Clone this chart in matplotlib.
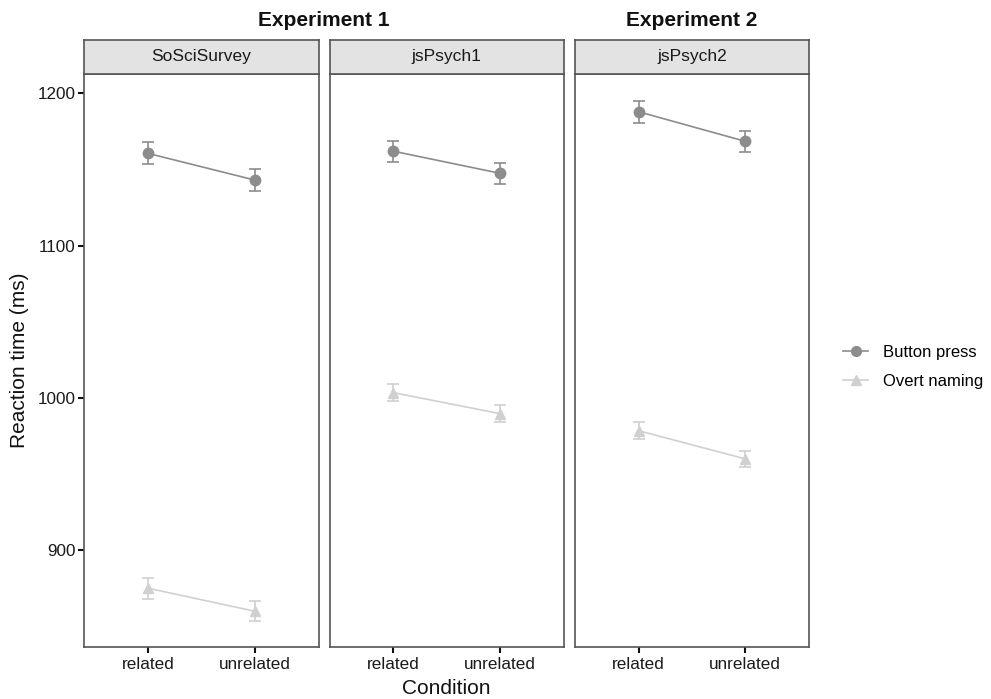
import matplotlib
matplotlib.use("Agg")
import matplotlib.pyplot as plt
from matplotlib.lines import Line2D

plt.rcParams['font.family'] = ['Liberation Sans', 'DejaVu Sans']

conditions = ["related", "unrelated"]
panels = ["SoSciSurvey", "jsPsych1", "jsPsych2"]
series = ["Button press", "Overt naming"]

button_mean = [[1160.6, 1143.1], [1162.0, 1147.5], [1187.9, 1168.5]]
button_err = [[7.2, 7.1], [7.0, 6.9], [7.2, 7.0]]
overt_mean = [[875.1, 860.0], [1003.5, 989.7], [978.5, 960.0]]
overt_err = [[6.8, 6.4], [5.5, 5.5], [5.4, 5.2]]

yticks = [900, 1000, 1100, 1200]
colors = ["#8c8c8c", "#d0d0d0"]
markers = ["o", "^"]

W, H = 991, 699
fig = plt.figure(figsize=(W / 100, H / 100), dpi=100)

lefts = [84, 329.5, 574.7]
pw = 234.5
top, bottom = 74, 647
strip_h = 34
border = "#555555"

for i, name in enumerate(panels):
    ax = fig.add_axes([lefts[i] / W, 1 - bottom / H, pw / W, (bottom - top) / H])
    x = [1, 2]
    for mean, err, c, m in [(button_mean[i], button_err[i], colors[0], markers[0]),
                            (overt_mean[i], overt_err[i], colors[1], markers[1])]:
        ax.errorbar(x, mean, yerr=err, color=c, marker=m, markersize=7.5,
                    linewidth=1.2, elinewidth=1.2, capsize=4.5, capthick=1.2)
    ax.set_xlim(0.4, 2.6)
    ax.set_ylim(836.5, 1212.7)
    ax.set_xticks(x)
    ax.set_xticklabels(conditions, fontsize=12.3, color="#1a1a1a")
    ax.set_yticks(yticks)
    if i == 0:
        ax.set_yticklabels([str(v) for v in yticks], fontsize=12.3, color="#1a1a1a")
        ax.tick_params(axis="y", length=4, width=1.5, color="#111111", pad=2)
    else:
        ax.tick_params(axis="y", left=False, labelleft=False)
    ax.tick_params(axis="x", length=4, width=1.5, color="#111111", pad=3)
    for s in ax.spines.values():
        s.set_color(border)
        s.set_linewidth(1.2)
    # strip
    sax = fig.add_axes([lefts[i] / W, 1 - top / H, pw / W, strip_h / H])
    sax.set_facecolor("#e3e3e3")
    sax.set_xticks([])
    sax.set_yticks([])
    for s in sax.spines.values():
        s.set_color(border)
        s.set_linewidth(1.2)
    sax.text(0.5, 0.5, name, ha="center", va="center", fontsize=12.5,
             color="#1a1a1a", transform=sax.transAxes)

fig.text(324 / W, 1 - 20 / H, "Experiment 1", ha="center", va="center",
         fontsize=15, fontweight="bold", color="#111111")
fig.text(692 / W, 1 - 20 / H, "Experiment 2", ha="center", va="center",
         fontsize=15, fontweight="bold", color="#111111")
fig.text(20 / W, 1 - 360 / H, "Reaction time (ms)", ha="center", va="center",
         rotation=90, fontsize=15, color="#111111")
fig.text(446 / W, 1 - 689 / H, "Condition", ha="center", va="center",
         fontsize=15, color="#111111")

handles = [Line2D([0], [0], color=colors[k], marker=markers[k], markersize=7,
                  linewidth=1.2) for k in range(2)]
fig.legend(handles, series, loc="center left", bbox_to_anchor=(843 / W, 1 - 367 / H),
           frameon=False, fontsize=12, handlelength=1.5, labelspacing=0.85,
           handletextpad=0.9, borderpad=0, borderaxespad=0)

fig.savefig("out.png", dpi=100)
